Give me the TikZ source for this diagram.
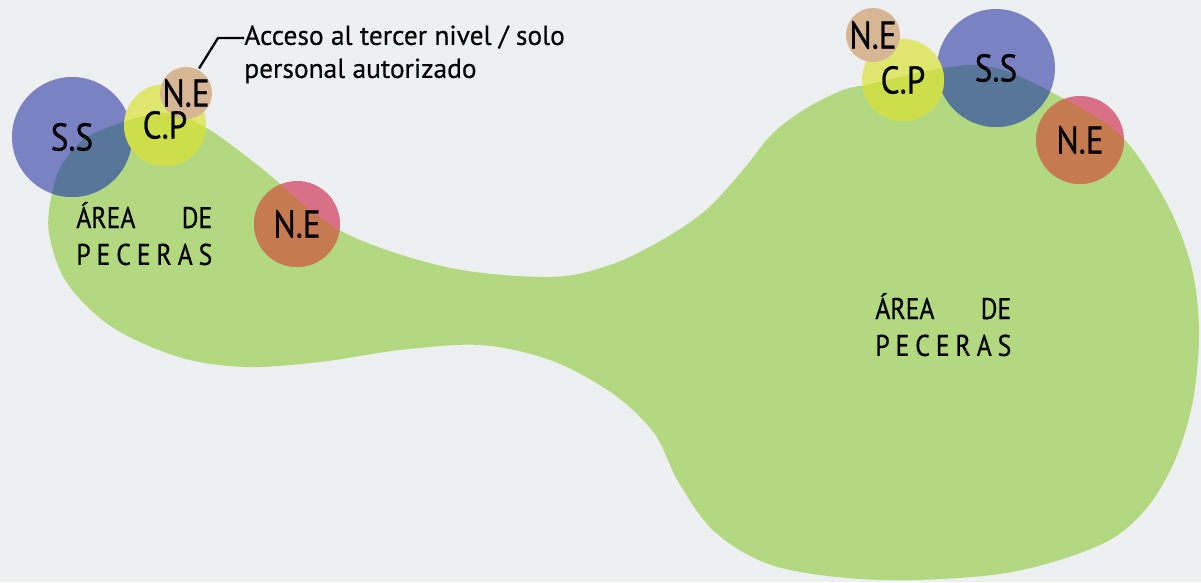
\documentclass[tikz,border=0pt]{standalone}
\usepackage{fontspec}
\newfontfamily\labelfont{PT Sans}[FakeStretch=0.86, FakeBold=0.6]
\newfontfamily\notefont{PT Sans}[FakeBold=0.4]
\usetikzlibrary{positioning}
\pgfdeclarelayer{background}
\pgfdeclarelayer{spots}
\pgfsetlayers{background,spots,main}

\definecolor{paper}{RGB}{237,239,241}
\definecolor{pond}{RGB}{178,216,128}
\definecolor{ssout}{RGB}{122,130,196}
\definecolor{ssin}{RGB}{88,118,152}
\definecolor{cpout}{RGB}{224,231,110}
\definecolor{cpin}{RGB}{205,222,72}
\definecolor{nebeige}{RGB}{214,182,148}
\definecolor{neout}{RGB}{218,112,134}
\definecolor{nein}{RGB}{198,122,80}

\tikzset{
  tag/.style={circle, inner sep=0pt, text=black, font=\labelfont\fontsize{22}{22}\selectfont},
  note/.style={inner sep=0pt, align=left, text=black, font=\notefont\fontsize{15.6}{18.8}\selectfont},
  zone/.style={inner sep=0pt, text=black, font=\labelfont\fontsize{17}{21}\selectfont},
  leader/.style={black, line width=1.3pt},
}

\newcommand\pondtext{\parbox[t]{2.72cm}{\makebox[2.72cm][l]{ÁREA\hfill DE}\\
  \makebox[2.72cm][l]{P\hfill E\hfill C\hfill E\hfill R\hfill A\hfill S}}}

\def\blob{plot[smooth cycle, tension=0.55] coordinates {(165,113) (205,127) (260,167)
  (339,230) (446,267) (550,277) (610,265) (662,240) (706,210) (743,170) (772,134) (805,109)
  (843,90) (870,84) (943,68) (993,67) (1053,93) (1120,135) (1165,200) (1191,265) (1199,330)
  (1193,400) (1175,460) (1145,510) (1100,545) (1006,573) (882,580) (778,567)
  (716,533) (679,483) (654,433) (612,393) (550,360) (480,345) (400,350) (320,362)
  (245,367) (179,357) (112,327) (67,283) (49,233) (52,193) (63,163) (87,137) (130,120)}}

\begin{document}
\begin{tikzpicture}[x=0.02cm, y=-0.02cm]
\useasboundingbox (0,0) rectangle (1201,582);
\begin{pgfonlayer}{background}
\fill[paper] (0,0) rectangle (1201,582);
\fill[pond] \blob;
\end{pgfonlayer}

% left pond
\node[tag] (ssL) at (72,137) {S.S};
\node[tag] (cpL) at (165,125) {C.P};
\node[tag, minimum size=1.04cm] (neSL) at (186,93) {N.E};
\node[tag] (neL) at (297,224) {N.E};
\node[zone, anchor=base west] (pondL) at (76,228) {\pondtext};

% right pond
\node[tag] (ssR) at (996,68) {S.S};
\node[tag] (cpR) at (903,80) {C.P};
\node[tag] (neSR) at (873,35) {N.E};
\node[tag] (neR) at (1080,140) {N.E};
\node[zone, anchor=base west] (pondR) at (875,319) {\pondtext};

\begin{pgfonlayer}{spots}
\foreach \n/\r/\co/\ci in {ssL/60/ssout/ssin, cpL/41/cpout/cpin, neSL/26/nebeige/nebeige,
    neL/43/neout/nein, ssR/59/ssout/ssin, cpR/41/cpout/cpin, neSR/27/nebeige/nebeige,
    neR/44/neout/nein}{
  \fill[\co] (\n.center) circle[radius=\r];
  \begin{scope}
    \clip \blob;
    \fill[\ci] (\n.center) circle[radius=\r];
  \end{scope}
}
\end{pgfonlayer}

\node[note, anchor=north west] (access) at (244,25) {Acceso al tercer nivel / solo\\personal autorizado};
\coordinate (bend) at (218,38);
\draw[leader] (neSL.62) -- (bend) -- (access.west |- bend);
\end{tikzpicture}
\end{document}
